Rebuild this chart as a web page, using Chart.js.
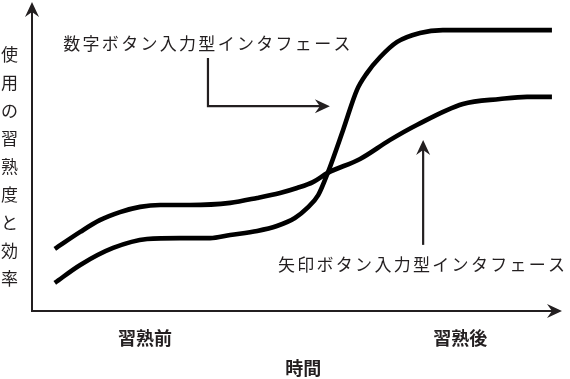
<!DOCTYPE html>
<html>
<head>
<meta charset="utf-8">
<script src="https://cdn.jsdelivr.net/npm/chart.js@4.4.1/dist/chart.umd.min.js"></script>
<style>
  html, body { margin: 0; padding: 0; background: #fff; }
</style>
</head>
<body>
<canvas id="chart" width="570" height="379"></canvas>
<script>
// values on a 0-100 time / 0-100 proficiency scale
const arrowX = [4.3, 9.1, 12.8, 16.6, 20.4, 24.2, 29.8, 37.4, 42.5, 46.8, 50, 53, 55.8, 61.9, 67.5, 72.6, 81.3, 88.3, 93.4, 98.1];
const arrowY = [20.1, 25.6, 29.4, 32, 33.7, 34.3, 34.3, 35, 36.6, 38.2, 39.8, 41.7, 44.7, 49.2, 55.3, 60.2, 67, 68.6, 69.3, 69.3];
const numericX = [4.3, 9.1, 15.3, 21.7, 27.9, 33.6, 37.4, 42.5, 46.2, 49.6, 51.9, 54, 55.8, 58.7, 61.3, 63.2, 65.7, 68.9, 73.2, 77.5, 98.1];
const numericY = [9.1, 14.9, 20.4, 23.3, 23.6, 23.6, 24.6, 25.9, 27.5, 30.1, 33.3, 37.5, 44.7, 58.6, 71.5, 77, 82.2, 87.1, 90, 90.9, 90.9];

const tickValues = [21.3, 80.8];
const tickLabels = ["習熟前", "習熟後"];
const xTitle = "時間";
const yTitle = "使用の習熟度と効率";

const numericLabel = "数字ボタン入力型インタフェース";
const arrowLabel = "矢印ボタン入力型インタフェース";

const INK = "#231f20";
const FONT = "'Noto Sans CJK JP', 'Noto Sans', sans-serif";

function toPoints(xs, ys) {
  return xs.map((x, i) => ({ x: x, y: ys[i] }));
}

function arrowHead(ctx, tx, ty, angle) {
  const len = 15, half = 7, notch = 10;
  ctx.save();
  ctx.translate(tx, ty);
  ctx.rotate(angle);
  ctx.beginPath();
  ctx.moveTo(0, 0);
  ctx.lineTo(-len, -half);
  ctx.lineTo(-notch, 0);
  ctx.lineTo(-len, half);
  ctx.closePath();
  ctx.fill();
  ctx.restore();
}

const decorations = {
  id: "decorations",
  afterDraw(chart) {
    const ctx = chart.ctx;
    const area = chart.chartArea;
    const xs = chart.scales.x;
    const ys = chart.scales.y;
    ctx.save();
    ctx.strokeStyle = INK;
    ctx.fillStyle = INK;

    // axes
    ctx.lineWidth = 2;
    ctx.beginPath();
    ctx.moveTo(area.left, area.top + 8);
    ctx.lineTo(area.left, area.bottom);
    ctx.lineTo(area.right - 8, area.bottom);
    ctx.stroke();
    arrowHead(ctx, area.left, area.top, -Math.PI / 2);
    arrowHead(ctx, area.right, area.bottom, 0);

    // elbow arrow to the numeric curve
    const ex = xs.getPixelForValue(33.2);
    const ey0 = ys.getPixelForValue(81.9);
    const ey1 = ys.getPixelForValue(66.3);
    const etip = xs.getPixelForValue(56.2);
    ctx.lineWidth = 2.2;
    ctx.beginPath();
    ctx.moveTo(ex, ey0);
    ctx.lineTo(ex, ey1);
    ctx.lineTo(etip - 8, ey1);
    ctx.stroke();
    arrowHead(ctx, etip, ey1, 0);

    // vertical arrow to the arrow-key curve
    const vx = xs.getPixelForValue(73.8);
    const vy0 = ys.getPixelForValue(21.4);
    const vtip = ys.getPixelForValue(55.3);
    ctx.beginPath();
    ctx.moveTo(vx, vy0);
    ctx.lineTo(vx, vtip + 8);
    ctx.stroke();
    arrowHead(ctx, vx, vtip, -Math.PI / 2);

    // labels
    ctx.font = "17px " + FONT;
    ctx.textBaseline = "middle";
    ctx.textAlign = "left";
    ctx.letterSpacing = "2.3px";
    ctx.fillText(numericLabel, xs.getPixelForValue(5.9), ys.getPixelForValue(86.4));
    ctx.fillText(arrowLabel, xs.getPixelForValue(46.4), ys.getPixelForValue(14.9));
    ctx.letterSpacing = "0px";

    // y title, upright characters stacked
    ctx.textAlign = "center";
    [...yTitle].forEach((ch, i) => {
      ctx.fillText(ch, 9.5, 55 + i * 28);
    });

    // x title
    ctx.font = "bold 18px " + FONT;
    ctx.fillText(xTitle, xs.getPixelForValue(51.2), 368);
    ctx.restore();
  }
};

new Chart(document.getElementById("chart"), {
  type: "line",
  data: {
    datasets: [
      {
        label: numericLabel,
        data: toPoints(numericX, numericY),
        borderColor: "#000",
        borderWidth: 4.6,
        pointRadius: 0,
        cubicInterpolationMode: "monotone",
        fill: false,
        clip: false,
      },
      {
        label: arrowLabel,
        data: toPoints(arrowX, arrowY),
        borderColor: "#000",
        borderWidth: 4.6,
        pointRadius: 0,
        cubicInterpolationMode: "monotone",
        fill: false,
        clip: false,
      },
    ],
  },
  options: {
    responsive: false,
    devicePixelRatio: 1,
    animation: false,
    layout: { padding: { left: 32, right: 8, top: 2, bottom: 0 } },
    plugins: {
      legend: { display: false },
      tooltip: { enabled: false },
    },
    scales: {
      x: {
        type: "linear",
        min: 0,
        max: 100,
        grid: { display: false, drawTicks: false },
        border: { display: false },
        afterBuildTicks: (scale) => {
          scale.ticks = tickValues.map((v) => ({ value: v }));
        },
        afterFit: (scale) => {
          scale.height = 68;
        },
        ticks: {
          padding: 16,
          maxRotation: 0,
          autoSkip: false,
          color: INK,
          font: { family: FONT, size: 18, weight: "bold" },
          callback: (value, index) => tickLabels[index],
        },
      },
      y: {
        display: false,
        min: 0,
        max: 100,
      },
    },
  },
  plugins: [decorations],
});
</script>
</body>
</html>
